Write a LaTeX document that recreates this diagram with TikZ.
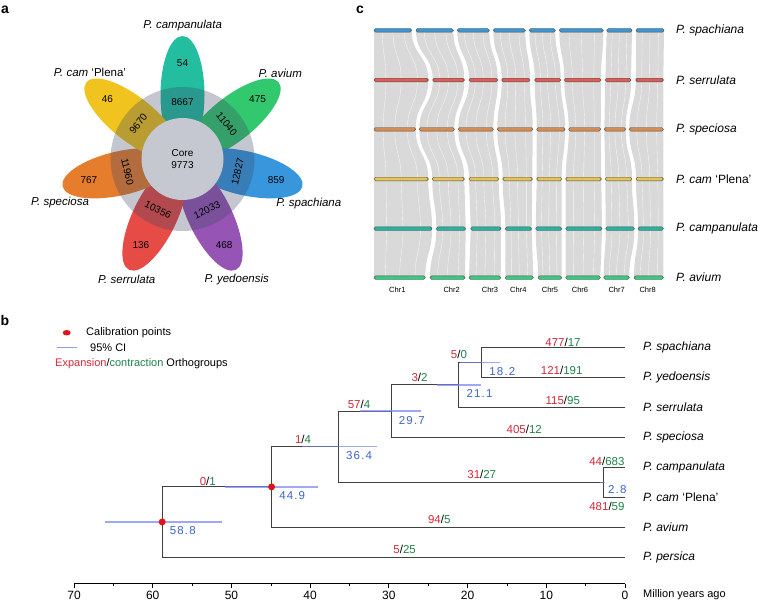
\documentclass[tikz,border=0pt]{standalone}
\usepackage{fontspec}
\setmainfont{Liberation Sans}
\setsansfont{Liberation Sans}
\usepackage{tikz}
\usetikzlibrary{positioning,shapes.geometric}

\definecolor{campc}{RGB}{35,190,160}
\definecolor{avic}{RGB}{50,200,110}
\definecolor{spac}{RGB}{55,150,220}
\definecolor{yedc}{RGB}{150,85,180}
\definecolor{serc}{RGB}{230,75,70}
\definecolor{spec}{RGB}{230,125,45}
\definecolor{plec}{RGB}{240,195,30}
\definecolor{ringc}{RGB}{60,70,100}
\definecolor{coreg}{RGB}{197,200,208}
\definecolor{ribgray}{RGB}{217,217,217}
\definecolor{bspa}{RGB}{60,150,210}
\definecolor{bser}{RGB}{220,95,85}
\definecolor{bspe}{RGB}{215,140,80}
\definecolor{bple}{RGB}{230,195,90}
\definecolor{bcam}{RGB}{40,180,160}
\definecolor{bavi}{RGB}{60,200,130}
\definecolor{expred}{RGB}{214,40,57}
\definecolor{congreen}{RGB}{30,130,70}
\definecolor{ageblue}{RGB}{60,100,200}
\definecolor{ciblue}{RGB}{120,130,240}
\definecolor{calred}{RGB}{225,20,20}

\tikzstyle{cnt} = [inner sep=0pt, font=\fontsize{10}{12}\selectfont]
\tikzstyle{vname} = [inner sep=0pt, font=\fontsize{11.5}{13}\selectfont\itshape]
\tikzstyle{tname} = [inner sep=0pt, anchor=west, font=\fontsize{12}{14}\selectfont]
\tikzstyle{branch} = [line width=0.9pt, draw=black!75]
\tikzstyle{cibar} = [line width=1.4pt, draw=ciblue, draw opacity=0.7]
\tikzstyle{calib} = [circle, fill=calred, inner sep=0pt, minimum size=7pt]
\tikzstyle{age} = [inner sep=0pt, anchor=west, xshift=7.5pt, yshift=-9pt, text=ageblue, font=\fontsize{11.5}{13}\selectfont\addfontfeatures{LetterSpace=10}]
\tikzstyle{ec} = [inner sep=0pt, font=\fontsize{11.5}{13}\selectfont]
\tikzstyle{chrbar} = [draw=black!70, line width=0.4pt, rounded corners=1.6pt]
\tikzstyle{ribbon} = [fill=ribgray]
\tikzstyle{strand} = [draw=white, line width=0.35pt, draw opacity=0.8]
\tikzstyle{chrlab} = [inner sep=0pt, font=\fontsize{7.5}{9}\selectfont]
\tikzstyle{panel} = [inner sep=0pt, font=\fontsize{14}{16}\selectfont\bfseries]
\newcommand{\ecl}[2]{\textcolor{expred}{#1}/\textcolor{congreen}{#2}}

\begin{document}
\begin{tikzpicture}[x=1pt, y=-1pt]
\useasboundingbox (0,0) rectangle (760,602);

\node[panel] (pa) at (5,10) {a};
\node[panel] (pc) at (360,10) {c};
\node[panel] (pb) at (5,320.7) {b};

% a: flower venn
\begin{scope}[shift={(182.5,159)}, y=1pt]
\foreach \ang/\col in {90/campc, 38.57/avic, -12.86/spac, -64.29/yedc, -115.71/serc, -167.14/spec, 141.43/plec}
  \fill[\col, rotate=\ang] (64,0) ellipse (59 and 22);
\fill[ringc, fill opacity=0.3] (0,0) circle (72);
\fill[coreg] (0,0) circle (41);
\node[cnt, align=center] (core) at (0,0) {Core\\9773};
\foreach \ang/\rot/\uniq/\shared in {90/0/54/8667, 38.57/-51.43/475/11040, -12.86/77.14/859/12827, -64.29/25.71/468/12033, -115.71/-25.71/136/10356, -167.14/-77.14/767/11960, 141.43/51.43/46/9670}{
  \node[cnt] (u\uniq) at (\ang:96) {\uniq};
  \node[cnt, rotate=\rot] (s\shared) at (\ang:56.5) {\shared};
}
\end{scope}
\node[vname] (vCam) at (182.7,25.7) {P. campanulata};
\node[vname] (vAvi) at (280.3,73.3) {P. avium};
\node[vname] (vSpa) at (308.8,203.3) {P. spachiana};
\node[vname] (vYed) at (236.7,279.3) {P. yedoensis};
\node[vname] (vSer) at (126.7,279.3) {P. serrulata};
\node[vname] (vSpe) at (60,202.7) {P. speciosa};
\node[vname] (vPle) at (90,72.7) {P. cam \upshape‘Plena’};

% c: synteny
\foreach \ya/\yb/\segs in {30.3/80/{374/411.7/374/428.3, 416/453.3/432.7/464.3, 457.3/489.3/469/497.7, 493.3/525.3/501.7/530, 529.3/555.3/534.7/560.7, 559.3/603.3/564.3/601, 606.7/632/605.3/631, 636/664/635.7/663.3},
  80/129.3/{374/428.3/374/415.7, 432.7/464.3/419.3/454.3, 469/497.7/458.3/493.3, 501.7/530/497.3/532.7, 534.7/560.7/536.7/565, 564.3/601/568.7/600.7, 605.3/631/604.3/625.7, 635.7/663.3/629.3/663.3},
  129.3/179/{374/415.7/374/428.3, 419.3/454.3/432.3/464.3, 458.3/493.3/469/498.7, 497.3/532.7/502.7/532.3, 536.7/565/536.7/561.7, 568.7/600.7/565.7/601.3, 604.3/625.7/605.3/632, 629.3/663.3/636/663.3},
  179/228.7/{374/428.3/374/432, 432.3/464.3/436.3/465.7, 469/498.7/470.7/501, 502.7/532.3/505.3/531.7, 536.7/561.7/535.7/561.7, 565.7/601.3/565.7/602, 605.3/632/605.7/634.3, 636/663.3/638/663.3},
  228.7/277.7/{374/432/374/425.3, 436.3/465.7/430/465, 470.7/501/469/500.7, 505.3/531.7/505.3/533.3, 535.7/561.7/538/561.7, 565.7/602/565.7/600.3, 605.7/634.3/603.7/629.3, 638/663.3/634/663.3}}{
  \pgfmathsetmacro\ym{(\ya+\yb)/2}
  \foreach \ta/\tb/\ba/\bb in \segs {
    \fill[ribbon] (\ta,\ya) .. controls (\ta,\ym) and (\ba,\ym) .. (\ba,\yb) -- (\bb,\yb) .. controls (\bb,\ym) and (\tb,\ym) .. (\tb,\ya) -- cycle;
    \foreach \f in {0.22,0.5,0.8} {
      \pgfmathsetmacro\sa{\ta+\f*(\tb-\ta)}
      \pgfmathsetmacro\sb{\ba+\f*(\bb-\ba)}
      \draw[strand] (\sa,\ya) .. controls (\sa,\ym) and (\sb,\ym) .. (\sb,\yb);
    }
  }
}
\foreach \y/\col/\segs in {30.3/bspa/{374/411.7, 416/453.3, 457.3/489.3, 493.3/525.3, 529.3/555.3, 559.3/603.3, 606.7/632, 636/664},
  80/bser/{374/428.3, 432.7/464.3, 469/497.7, 501.7/530, 534.7/560.7, 564.3/601, 605.3/631, 635.7/663.3},
  129.3/bspe/{374/415.7, 419.3/454.3, 458.3/493.3, 497.3/532.7, 536.7/565, 568.7/600.7, 604.3/625.7, 629.3/663.3},
  179/bple/{374/428.3, 432.3/464.3, 469/498.7, 502.7/532.3, 536.7/561.7, 565.7/601.3, 605.3/632, 636/663.3},
  228.7/bcam/{374/432, 436.3/465.7, 470.7/501, 505.3/531.7, 535.7/561.7, 565.7/602, 605.7/634.3, 638/663.3},
  277.7/bavi/{374/425.3, 430/465, 469/500.7, 505.3/533.3, 538/561.7, 565.7/600.3, 603.7/629.3, 634/663.3}}{
  \foreach \xl/\xr in \segs
    \draw[chrbar, fill=\col] (\xl,\y-1.8) rectangle (\xr,\y+1.8);
}
\foreach \x/\n in {397.3/1, 451.7/2, 490/3, 518.3/4, 550/5, 580/6, 616.7/7, 647.7/8}
  \node[chrlab] (chr\n) at (\x,290) {Chr\n};
\node[tname] (cSpa) at (676,30.3) {\itshape P. spachiana};
\node[tname] (cSer) at (676,80) {\itshape P. serrulata};
\node[tname] (cSpe) at (676,129.3) {\itshape P. speciosa};
\node[tname] (cPle) at (676,179) {\textit{P. cam} ‘Plena’};
\node[tname] (cCam) at (676,228.7) {\itshape P. campanulata};
\node[tname] (cAvi) at (676,277.7) {\itshape P. avium};

% b: legend
\node[ellipse, fill=calred, minimum width=8pt, minimum height=5.5pt, inner sep=0pt] (legDot) at (66.7,332.7) {};
\node[tname, font=\fontsize{11}{13}\selectfont] (legCal) at (86,333) {Calibration points};
\draw[line width=1.4pt, ciblue, opacity=0.8] (57,347.7) -- (77,347.7);
\node[tname, font=\fontsize{11}{13}\selectfont] (legCI) at (90,348) {95\% CI};
\node[tname, font=\fontsize{11}{13}\selectfont] (legEC) at (55,364) {\textcolor{expred}{Expansion}/\textcolor{congreen}{contraction} Orthogroups};

% b: dated tree
\begin{scope}[xshift=625pt, x=-7.871pt]
\coordinate (tSpa) at (0,347.5);
\coordinate (tYed) at (0,377.4);
\coordinate (tSer) at (0,407.4);
\coordinate (tSpe) at (0,437.3);
\coordinate (tCam) at (0,467.2);
\coordinate (tPle) at (0,497.2);
\coordinate (tAvi) at (0,527.1);
\coordinate (tPer) at (0,557);
\coordinate (n182) at (18.2,362.45);
\coordinate (n211) at (21.1,384.9);
\coordinate (n297) at (29.7,411.1);
\coordinate (n28) at (2.8,482.2);
\coordinate (n364) at (36.4,446.65);
\coordinate (n449) at (44.9,486.9);
\coordinate (n588) at (58.8,521.95);

\draw[branch] (n182) |- (tSpa);
\draw[branch] (n182) |- (tYed);
\draw[branch] (n211) |- (n182);
\draw[branch] (n211) |- (tSer);
\draw[branch] (n297) |- (n211);
\draw[branch] (n297) |- (tSpe);
\draw[branch] (n28) |- (tCam);
\draw[branch] (n28) |- (tPle);
\draw[branch] (n364) |- (n297);
\draw[branch] (n364) |- (n28);
\draw[branch] (n449) |- (n364);
\draw[branch] (n449) |- (tAvi);
\draw[branch] (n588) |- (n449);
\draw[branch] (n588) |- (tPer);

% 95% CI
\draw[cibar] (21.0,362.45) -- (15.9,362.45);
\draw[cibar] (23.9,384.9) -- (18.3,384.9);
\draw[cibar] (33.7,411.1) -- (25.9,411.1);
\draw[cibar] (41.1,446.65) -- (31.5,446.65);
\draw[cibar] (50.8,486.9) -- (39.0,486.9);
\draw[cibar] (66.1,521.95) -- (51.2,521.95);
\draw[cibar] (3.2,482.2) -- (2.6,482.2);
\node[calib] (cal449) at (n449) {};
\node[calib] (cal588) at (n588) {};

\node[age] (a182) at (n182) {18.2};
\node[age] (a211) at (n211) {21.1};
\node[age] (a297) at (n297) {29.7};
\node[age] (a364) at (n364) {36.4};
\node[age] (a449) at (n449) {44.9};
\node[age] (a588) at (n588) {58.8};
\node[age, xshift=-2.5pt, yshift=2pt] (a28) at (n28) {2.8};

\node[ec] (eSpa) at (7.88,342) {\ecl{477}{17}};
\node[ec] (eYed) at (8.04,370.7) {\ecl{121}{191}};
\node[ec] (e182) at (21.1,354.3) {\ecl{5}{0}};
\node[ec] (e211) at (26.1,377.7) {\ecl{3}{2}};
\node[ec] (eSer) at (7.9,400) {\ecl{115}{95}};
\node[ec] (eSpe) at (12.8,429) {\ecl{405}{12}};
\node[ec] (e297) at (33.8,404.3) {\ecl{57}{4}};
\node[ec] (e364) at (40.9,439.7) {\ecl{1}{4}};
\node[ec] (e449) at (53.0,481) {\ecl{0}{1}};
\node[ec] (e28) at (18.2,474) {\ecl{31}{27}};
\node[ec] (eCam) at (2.3,461) {\ecl{44}{683}};
\node[ec] (ePle) at (2.3,506.7) {\ecl{481}{59}};
\node[ec] (eAvi) at (23.6,519) {\ecl{94}{5}};
\node[ec] (ePer) at (28.0,549) {\ecl{5}{25}};

\node[tname, xshift=18pt] (lSpa) at (tSpa) {\itshape P. spachiana};
\node[tname, xshift=18pt] (lYed) at (tYed) {\itshape P. yedoensis};
\node[tname, xshift=18pt] (lSer) at (tSer) {\itshape P. serrulata};
\node[tname, xshift=18pt] (lSpe) at (tSpe) {\itshape P. speciosa};
\node[tname, xshift=18pt] (lCam) at (tCam) {\itshape P. campanulata};
\node[tname, xshift=18pt] (lPle) at (tPle) {\textit{P. cam} ‘Plena’};
\node[tname, xshift=18pt] (lAvi) at (tAvi) {\itshape P. avium};
\node[tname, xshift=18pt] (lPer) at (tPer) {\itshape P. persica};

% time axis
\draw[line width=0.8pt] (70,583.7) -- (0,583.7);
\foreach \t in {0,10,...,70}{
  \draw[line width=0.8pt] (\t,583.7) -- (\t,588);
  \node[inner sep=0pt, font=\fontsize{12}{14}\selectfont] (ax\t) at (\t,595) {\t};
}
\foreach \t in {5,15,...,65}
  \draw[line width=0.6pt] (\t,583.7) -- (\t,585.7);
\node[tname, xshift=18pt, font=\fontsize{11}{13}\selectfont] (axlab) at (0,595) {Million years ago};
\end{scope}
\end{tikzpicture}
\end{document}
